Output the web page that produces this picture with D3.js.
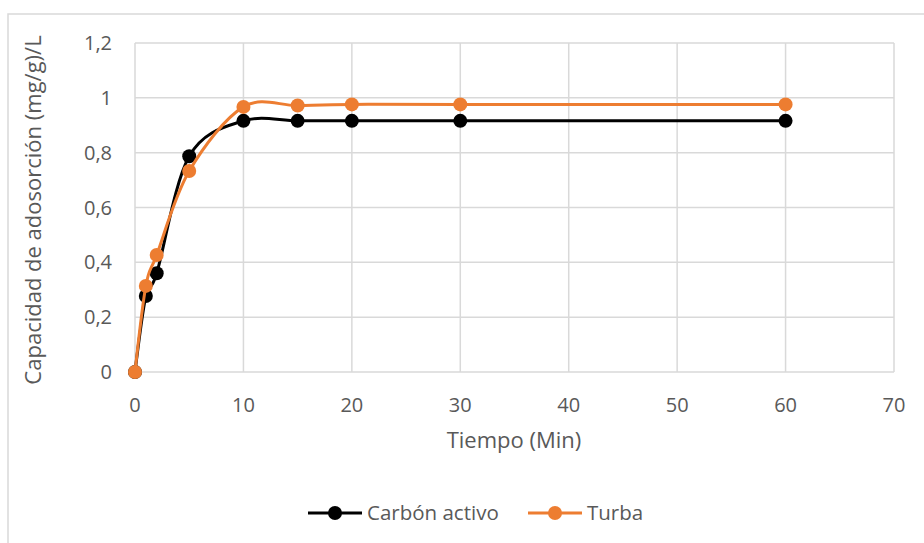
<!DOCTYPE html>
<html>
<head>
<meta charset="utf-8">
<script src="https://cdn.jsdelivr.net/npm/d3@7"></script>
<style>
  body { margin: 0; background: #fff; }
  svg text { font-family: "Open Sans", sans-serif; fill: #595959; }
</style>
</head>
<body>
<svg id="chart" width="924" height="543"></svg>
<script>
const tiempo = [0, 1, 2, 5, 10, 15, 20, 30, 60];
const carbonActivo = [0, 0.277, 0.36, 0.787, 0.916, 0.916, 0.916, 0.916, 0.916];
const turba = [0, 0.314, 0.427, 0.733, 0.967, 0.972, 0.976, 0.976, 0.976];
const xTicks = [0, 10, 20, 30, 40, 50, 60, 70];
const yTicks = [0, 0.2, 0.4, 0.6, 0.8, 1, 1.2];

const series = [
  { name: "Carbón activo", color: "#000000", values: carbonActivo },
  { name: "Turba", color: "#ed7d31", values: turba }
];

const svg = d3.select("#chart");

// outer chart border
svg.append("rect")
  .attr("x", 8).attr("y", 14)
  .attr("width", 940).attr("height", 560)
  .attr("fill", "none").attr("stroke", "#d9d9d9").attr("stroke-width", 1.5);

const x = d3.scaleLinear().domain([0, 70]).range([135, 894]);
const y = d3.scaleLinear().domain([0, 1.2]).range([372, 43]);
const fmt = d => String(d).replace(".", ",");

// grid
svg.append("g").selectAll("line").data(yTicks).enter().append("line")
  .attr("x1", x(0)).attr("x2", x(70))
  .attr("y1", d => y(d)).attr("y2", d => y(d))
  .attr("stroke", "#d9d9d9").attr("stroke-width", 1.5);
svg.append("g").selectAll("line").data(xTicks).enter().append("line")
  .attr("x1", d => x(d)).attr("x2", d => x(d))
  .attr("y1", y(0)).attr("y2", y(1.2))
  .attr("stroke", "#d9d9d9").attr("stroke-width", 1.5);

// tick labels
svg.append("g").selectAll("text").data(yTicks).enter().append("text")
  .attr("x", 112).attr("y", d => y(d))
  .attr("dy", "0.35em").attr("text-anchor", "end")
  .attr("font-size", 20).text(fmt);
svg.append("g").selectAll("text").data(xTicks).enter().append("text")
  .attr("x", d => x(d)).attr("y", 405)
  .attr("dy", "0.35em").attr("text-anchor", "middle")
  .attr("font-size", 20).text(fmt);

// axis titles
svg.append("text")
  .attr("x", 514).attr("y", 440).attr("dy", "0.35em")
  .attr("text-anchor", "middle").attr("font-size", 22)
  .text("Tiempo (Min)");
svg.append("text")
  .attr("transform", "translate(33,210) rotate(-90)")
  .attr("dy", "0.35em").attr("text-anchor", "middle").attr("font-size", 22)
  .text("Capacidad de adosorción (mg/g)/L");

// lines and markers
const line = d3.line()
  .x((d, i) => x(tiempo[i]))
  .y(d => y(d))
  .curve(d3.curveCardinal.tension(0));

series.forEach(s => {
  svg.append("path")
    .datum(s.values)
    .attr("d", line)
    .attr("fill", "none")
    .attr("stroke", s.color)
    .attr("stroke-width", 3);
  svg.append("g").selectAll("circle").data(s.values).enter().append("circle")
    .attr("cx", (d, i) => x(tiempo[i]))
    .attr("cy", d => y(d))
    .attr("r", 7)
    .attr("fill", s.color);
});

// legend
const legendX = [308, 528];
const legend = svg.append("g").selectAll("g").data(series).enter().append("g")
  .attr("transform", (d, i) => "translate(" + legendX[i] + ",513)");
legend.append("line")
  .attr("x1", 0).attr("x2", 54)
  .attr("stroke", d => d.color).attr("stroke-width", 3);
legend.append("circle")
  .attr("cx", 27).attr("r", 7).attr("fill", d => d.color);
legend.append("text")
  .attr("x", 59).attr("dy", "0.35em").attr("font-size", 20.5)
  .text(d => d.name);
</script>
</body>
</html>
